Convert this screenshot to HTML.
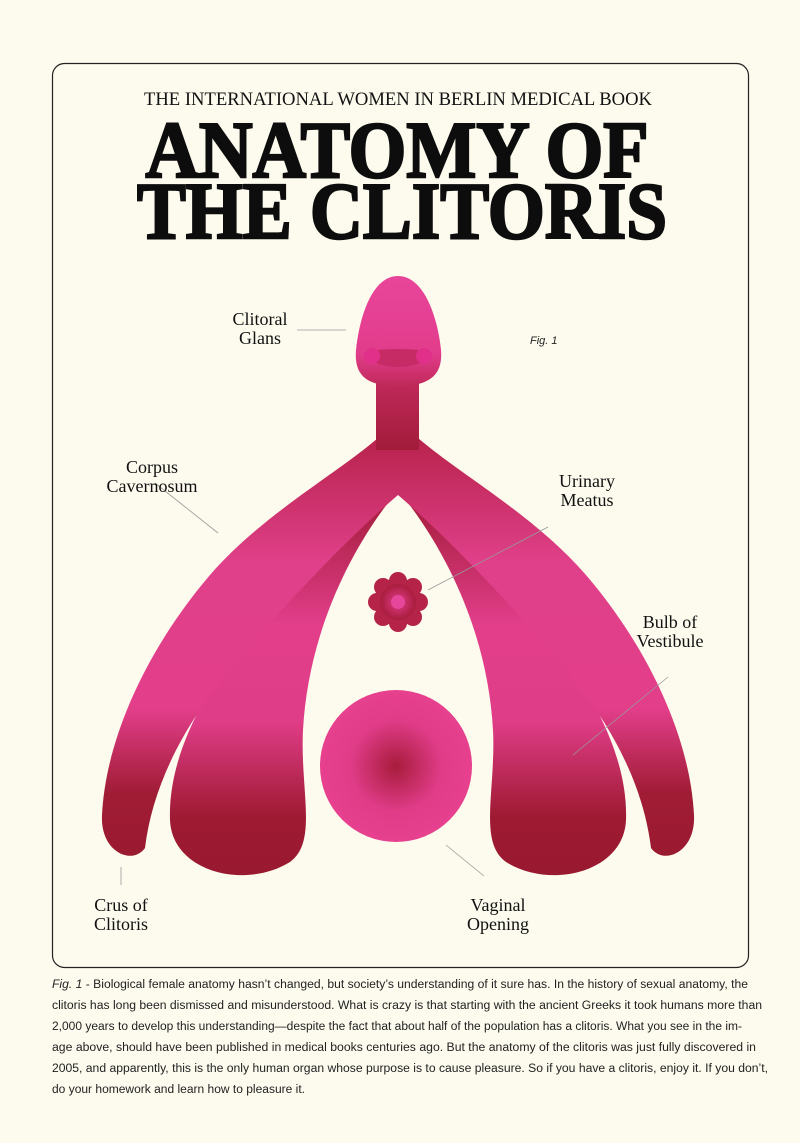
<!DOCTYPE html>
<html><head><meta charset="utf-8"><style>
html,body{margin:0;padding:0;background:#fdfbee;}
svg{display:block}
</style></head><body>
<svg width="800" height="1143" viewBox="0 0 800 1143" xmlns="http://www.w3.org/2000/svg">
<defs>
<linearGradient id="gA" x1="0" y1="0" x2="0" y2="1">
<stop offset="0" stop-color="#b8234c"/><stop offset="0.3" stop-color="#e0408a"/><stop offset="0.65" stop-color="#e23e8a"/><stop offset="0.85" stop-color="#a01c35"/><stop offset="1" stop-color="#9a1a30"/>
</linearGradient>
<linearGradient id="gB" x1="0" y1="0" x2="0" y2="1">
<stop offset="0" stop-color="#9e1a34"/><stop offset="0.35" stop-color="#e23e8a"/><stop offset="0.6" stop-color="#e03d88"/><stop offset="0.85" stop-color="#9e1a32"/><stop offset="1" stop-color="#981930"/>
</linearGradient>
<linearGradient id="gG" x1="0" y1="0" x2="0" y2="1">
<stop offset="0" stop-color="#e8459a"/><stop offset="0.7" stop-color="#e23c8c"/><stop offset="1" stop-color="#c02a5a"/>
</linearGradient>
<linearGradient id="gN" x1="0" y1="0" x2="0" y2="1">
<stop offset="0" stop-color="#c52b60"/><stop offset="1" stop-color="#a21c3a"/>
</linearGradient>
<radialGradient id="gV"><stop offset="0" stop-color="#a81c3c"/><stop offset="0.6" stop-color="#e03c88"/><stop offset="1" stop-color="#e6408e"/></radialGradient>
<radialGradient id="gU"><stop offset="0" stop-color="#e03c88"/><stop offset="1" stop-color="#a81c3c"/></radialGradient>
<g id="half">
<path d="M398,490 C350,525 300,565 255,625 C200,695 168,760 170,820 C172,872 245,890 290,862 C318,842 300,790 303,730 C308,640 345,555 398,490 Z" fill="url(#gB)"/>
<path d="M378,438 C335,475 262,515 210,575 C150,645 106,735 102,815 C100,852 132,866 145,848 C152,790 180,730 230,670 C280,610 340,545 398,495 L398,445 Z" fill="url(#gA)"/>
</g>
</defs>
<rect width="800" height="1143" fill="#fdfbee"/>
<rect x="52.5" y="63.5" width="696" height="904" rx="12" fill="none" stroke="#222" stroke-width="1.2"/>
<text x="398" y="105" text-anchor="middle" font-family="Liberation Serif, serif" font-size="19" fill="#111" textLength="508" lengthAdjust="spacingAndGlyphs">THE INTERNATIONAL WOMEN IN BERLIN MEDICAL BOOK</text>
<g font-family="Liberation Serif, serif" font-weight="bold" font-size="80" fill="#0d0d0d" stroke="#0d0d0d" stroke-width="2.5" text-anchor="middle">
<text x="397" y="177" textLength="503" lengthAdjust="spacingAndGlyphs">ANATOMY OF</text>
<text x="402" y="238" textLength="530" lengthAdjust="spacingAndGlyphs">THE CLITORIS</text>
</g>

<use href="#half"/>
<use href="#half" transform="translate(796,0) scale(-1,1)"/>
<rect x="376" y="370" width="43" height="80" fill="url(#gN)"/>
<path d="M398,276 C425,276 438,320 441,350 C443,375 430,386 398,386 C366,386 354,375 356,350 C359,320 371,276 398,276 Z" fill="url(#gG)"/>
<path d="M366,352 C380,348 416,348 430,352 C428,372 368,372 366,352 Z" fill="#c62b66"/>
<circle cx="372" cy="356" r="8" fill="#e0308a"/><circle cx="424" cy="356" r="8" fill="#e0308a"/>
<g transform="translate(398,602)">
<circle r="24" fill="url(#gU)"/>
<g fill="#b52448">
<circle cx="0" cy="-21" r="9"/><circle cx="15" cy="-15" r="9"/><circle cx="21" cy="0" r="9"/><circle cx="15" cy="15" r="9"/><circle cx="0" cy="21" r="9"/><circle cx="-15" cy="15" r="9"/><circle cx="-21" cy="0" r="9"/><circle cx="-15" cy="-15" r="9"/>
</g>
<circle r="18" fill="url(#gU)" opacity="0.9"/>
<circle r="7" fill="#e6479a"/>
</g>
<circle cx="396" cy="766" r="76" fill="url(#gV)"/>

<g stroke="#999" stroke-width="0.8">
<line x1="297" y1="330" x2="346" y2="330"/>
<line x1="155" y1="483" x2="218" y2="533"/>
<line x1="428" y1="590" x2="548" y2="527"/>
<line x1="668" y1="677" x2="573" y2="755"/>
<line x1="446" y1="845" x2="484" y2="876"/>
<line x1="121" y1="867" x2="121" y2="885"/>
</g>
<g font-family="Liberation Serif, serif" font-size="18" fill="#111" text-anchor="middle">
<text x="260" y="325">Clitoral</text><text x="260" y="344">Glans</text>
<text x="152" y="473">Corpus</text><text x="152" y="492">Cavernosum</text>
<text x="587" y="487">Urinary</text><text x="587" y="506">Meatus</text>
<text x="670" y="628">Bulb of</text><text x="670" y="647">Vestibule</text>
<text x="121" y="911">Crus of</text><text x="121" y="930">Clitoris</text>
<text x="498" y="911">Vaginal</text><text x="498" y="930">Opening</text>
</g>
<text x="530" y="344" font-family="Liberation Sans, sans-serif" font-style="italic" font-size="11" fill="#222">Fig. 1</text>
<g font-family="Liberation Sans, sans-serif" font-size="11.5" fill="#222">
<text x="52" y="988" textLength="696" lengthAdjust="spacingAndGlyphs"><tspan font-style="italic">Fig. 1</tspan> - Biological female anatomy hasn’t changed, but society’s understanding of it sure has. In the history of sexual anatomy, the</text>
<text x="52" y="1009" textLength="710" lengthAdjust="spacingAndGlyphs">clitoris has long been dismissed and misunderstood. What is crazy is that starting with the ancient Greeks it took humans more than</text>
<text x="52" y="1030" textLength="690" lengthAdjust="spacingAndGlyphs">2,000 years to develop this understanding—despite the fact that about half of the population has a clitoris. What you see in the im-</text>
<text x="52" y="1051" textLength="704" lengthAdjust="spacingAndGlyphs">age above, should have been published in medical books centuries ago. But the anatomy of the clitoris was just fully discovered in</text>
<text x="52" y="1072" textLength="716" lengthAdjust="spacingAndGlyphs">2005, and apparently, this is the only human organ whose purpose is to cause pleasure. So if you have a clitoris, enjoy it. If you don’t,</text>
<text x="52" y="1093" textLength="253" lengthAdjust="spacingAndGlyphs">do your homework and learn how to pleasure it.</text>
</g>
</svg>
</body></html>
